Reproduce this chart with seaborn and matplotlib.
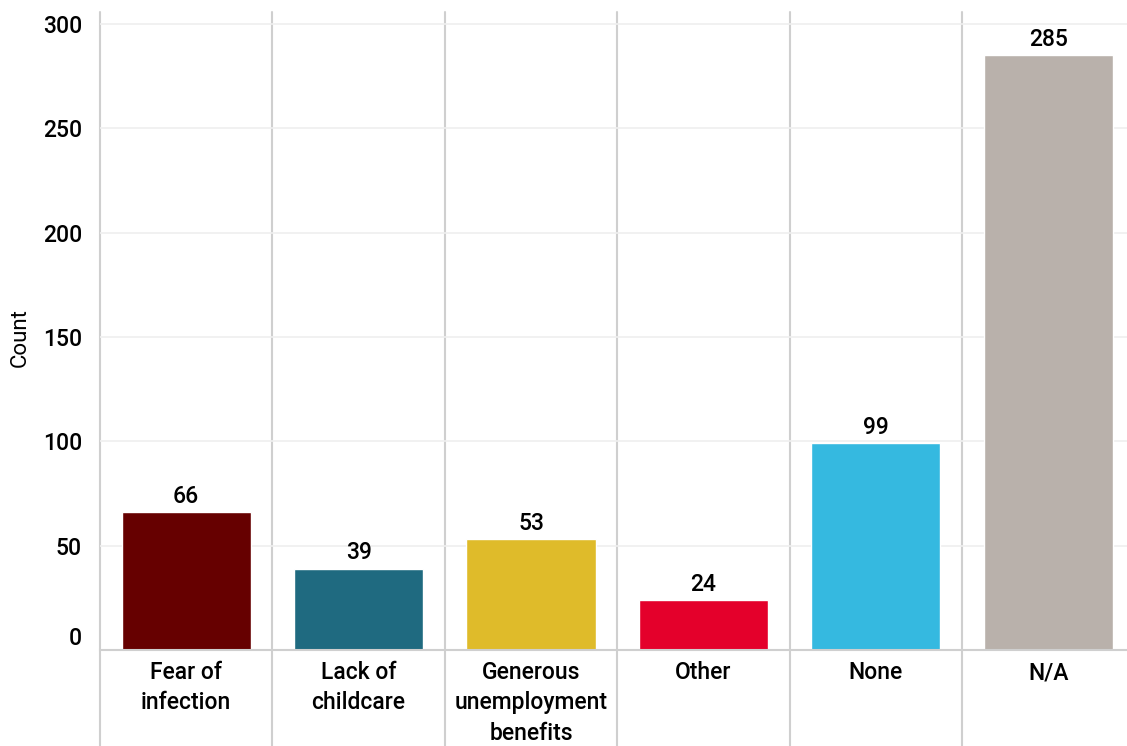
import matplotlib
matplotlib.use("Agg")
import matplotlib.pyplot as plt
import matplotlib.transforms as mtransforms
import seaborn as sns

categories = ["Fear of\ninfection", "Lack of\nchildcare", "Generous\nunemployment\nbenefits",
              "Other", "None", "N/A"]
counts = [66, 39, 53, 24, 99, 285]
colors = ["#660000", "#1f6a80", "#dfbb2a", "#e4002b", "#35b9e0", "#b9b1ab"]
yticks = [0, 50, 100, 150, 200, 250, 300]

sns.set_style("white")
plt.rcParams["font.family"] = ["Roboto", "DejaVu Sans"]
plt.rcParams["font.weight"] = "medium"
plt.rcParams["text.color"] = "black"
plt.rcParams["axes.labelcolor"] = "black"
plt.rcParams["xtick.labelcolor"] = "black"
plt.rcParams["ytick.labelcolor"] = "black"

fig = plt.figure(figsize=(11.27, 7.46), dpi=100)
ax = fig.add_axes([100 / 1127, 96 / 746, 1 - 100 / 1127, 638 / 746])

sns.barplot(x=categories, y=counts, hue=categories, palette=colors, legend=False,
            width=0.75, saturation=1, ax=ax)

ax.set_xlim(-0.5, 5.457)
ax.set_ylim(0, 305.7)
ax.set_yticks(yticks)
ax.set_ylabel("Count", fontsize=16)
ax.yaxis.set_label_coords(-0.067, 0.49)
ax.set_xlabel("")

# light horizontal grid
ax.yaxis.grid(True, color="#efefef", lw=1.2)
ax.xaxis.grid(False)
ax.set_axisbelow(True)

for s in ["top", "right", "left"]:
    ax.spines[s].set_visible(False)
ax.spines["bottom"].set_color("#cfcfcf")
ax.spines["bottom"].set_linewidth(1.5)

ax.tick_params(axis="y", length=8, color="#eeeeee", width=1.2, pad=5, labelsize=16.5)
ax.tick_params(axis="x", length=0, pad=8, labelsize=16.5)
for lab in ax.get_xticklabels():
    lab.set_linespacing(1.4)
# the zero label sits just above the baseline
ax.get_yticklabels()[0].set_verticalalignment("bottom")

# vertical separators running down through the label area
trans = mtransforms.blended_transform_factory(ax.transData, ax.transAxes)
for i in range(len(categories)):
    ax.plot([i - 0.5, i - 0.5], [-0.16, 1.0], transform=trans, color="#cfcfcf",
            lw=1.5, clip_on=False, zorder=0.5)

for c in ax.containers:
    ax.bar_label(c, padding=3, fontsize=16.5, fontweight="medium")

fig.savefig("out.png", dpi=100)
